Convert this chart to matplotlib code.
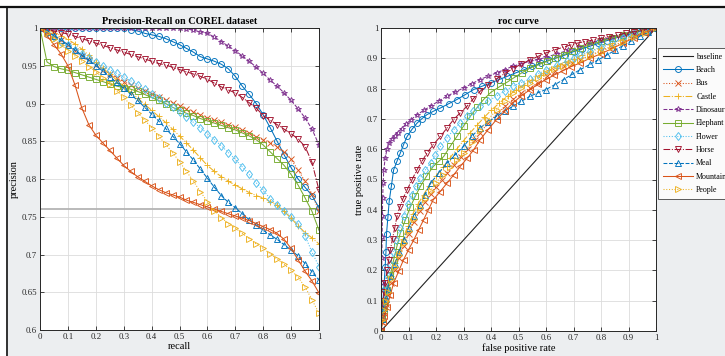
import numpy as np
import matplotlib
matplotlib.use("Agg")
import matplotlib.pyplot as plt
from matplotlib.lines import Line2D
from matplotlib.patches import Rectangle

plt.rcParams['font.family'] = ['Liberation Serif', 'DejaVu Serif']

classes = ['Beach', 'Bus', 'Castle', 'Dinosaur', 'Elephant', 'Flower', 'Horse', 'Meal', 'Mountain', 'People']

# ---------------- Precision-Recall data ----------------
recall = [0.0, 0.025, 0.05, 0.075, 0.1, 0.125, 0.15, 0.175, 0.2, 0.225, 0.25, 0.275, 0.3, 0.325,
          0.35, 0.375, 0.4, 0.425, 0.45, 0.475, 0.5, 0.525, 0.55, 0.575, 0.6, 0.625, 0.65, 0.675,
          0.7, 0.725, 0.75, 0.775, 0.8, 0.825, 0.85, 0.875, 0.9, 0.925, 0.95, 0.975, 1.0]

prec_beach = [1.0, 1.0, 1.0, 1.0, 1.0, 1.0, 1.0, 1.0, 1.0, 1.0, 1.0, 1.0, 1.0, 0.998,
              0.996, 0.993, 0.991, 0.989, 0.986, 0.982, 0.978, 0.973, 0.968, 0.962, 0.959, 0.956, 0.952, 0.946,
              0.936, 0.923, 0.912, 0.9, 0.885, 0.868, 0.85, 0.832, 0.815, 0.8, 0.789, 0.778, 0.762]
prec_bus = [1.0, 0.995, 0.99, 0.984, 0.977, 0.97, 0.963, 0.957, 0.951, 0.945, 0.939, 0.934, 0.929, 0.925,
            0.921, 0.917, 0.913, 0.909, 0.905, 0.901, 0.897, 0.893, 0.889, 0.885, 0.881, 0.878, 0.875, 0.872,
            0.869, 0.865, 0.861, 0.856, 0.852, 0.848, 0.843, 0.836, 0.826, 0.812, 0.797, 0.78, 0.757]
prec_castle = [1.0, 0.997, 0.994, 0.99, 0.985, 0.979, 0.972, 0.964, 0.955, 0.947, 0.939, 0.931, 0.923, 0.915,
               0.907, 0.899, 0.891, 0.883, 0.875, 0.866, 0.857, 0.848, 0.838, 0.828, 0.818, 0.81, 0.803, 0.797,
               0.792, 0.787, 0.782, 0.778, 0.775, 0.77, 0.765, 0.757, 0.748, 0.738, 0.729, 0.722, 0.714]
prec_dino = [1.0, 1.0, 1.0, 1.0, 1.0, 1.0, 1.0, 1.0, 1.0, 1.0, 1.0, 1.0, 1.0, 1.0,
             1.0, 1.0, 1.0, 1.0, 1.0, 1.0, 1.0, 0.999, 0.997, 0.995, 0.993, 0.988, 0.982, 0.976,
             0.97, 0.963, 0.956, 0.948, 0.94, 0.931, 0.923, 0.914, 0.904, 0.893, 0.881, 0.866, 0.845]
prec_elephant = [1.0, 0.955, 0.949, 0.946, 0.944, 0.941, 0.938, 0.935, 0.932, 0.929, 0.926, 0.923, 0.921, 0.919,
                 0.916, 0.912, 0.908, 0.904, 0.9, 0.895, 0.891, 0.887, 0.884, 0.88, 0.877, 0.874, 0.871, 0.868,
                 0.865, 0.861, 0.857, 0.852, 0.845, 0.836, 0.827, 0.818, 0.806, 0.792, 0.775, 0.757, 0.732]
prec_flower = [1.0, 0.994, 0.988, 0.982, 0.977, 0.971, 0.965, 0.96, 0.955, 0.95, 0.945, 0.94, 0.935, 0.93,
               0.925, 0.919, 0.913, 0.907, 0.901, 0.895, 0.889, 0.882, 0.875, 0.868, 0.86, 0.852, 0.844, 0.835,
               0.826, 0.816, 0.806, 0.795, 0.785, 0.774, 0.766, 0.758, 0.75, 0.74, 0.725, 0.703, 0.684]
prec_horse = [1.0, 0.998, 0.996, 0.994, 0.992, 0.989, 0.986, 0.983, 0.98, 0.977, 0.974, 0.971, 0.968, 0.965,
              0.962, 0.959, 0.956, 0.953, 0.951, 0.948, 0.945, 0.942, 0.939, 0.936, 0.932, 0.927, 0.922, 0.918,
              0.914, 0.908, 0.901, 0.894, 0.884, 0.878, 0.872, 0.866, 0.86, 0.853, 0.843, 0.822, 0.785]
prec_meal = [1.0, 0.995, 0.99, 0.984, 0.978, 0.971, 0.964, 0.957, 0.95, 0.943, 0.935, 0.928, 0.92, 0.912,
             0.904, 0.895, 0.886, 0.877, 0.867, 0.857, 0.847, 0.836, 0.825, 0.813, 0.801, 0.789, 0.778, 0.769,
             0.762, 0.754, 0.746, 0.739, 0.732, 0.726, 0.72, 0.713, 0.706, 0.698, 0.688, 0.677, 0.666]
prec_mountain = [1.0, 0.99, 0.978, 0.966, 0.95, 0.925, 0.894, 0.872, 0.858, 0.848, 0.838, 0.828, 0.818, 0.81,
                 0.803, 0.797, 0.791, 0.786, 0.782, 0.779, 0.776, 0.772, 0.769, 0.766, 0.763, 0.76, 0.757, 0.754,
                 0.751, 0.748, 0.745, 0.741, 0.737, 0.733, 0.728, 0.72, 0.708, 0.693, 0.678, 0.665, 0.649]
prec_people = [1.0, 0.993, 0.986, 0.978, 0.97, 0.963, 0.956, 0.949, 0.942, 0.934, 0.926, 0.917, 0.908, 0.898,
               0.888, 0.878, 0.868, 0.857, 0.846, 0.835, 0.823, 0.81, 0.797, 0.783, 0.77, 0.758, 0.749, 0.741,
               0.735, 0.728, 0.721, 0.714, 0.708, 0.701, 0.694, 0.687, 0.679, 0.67, 0.657, 0.64, 0.622]

pr_reference_level = 0.76

# ---------------- ROC data ----------------
baseline_fpr = [0.0, 1.0]
baseline_tpr = [0.0, 1.0]

fpr_beach = [0, 0.003, 0.007, 0.011, 0.015, 0.018, 0.02, 0.025, 0.03, 0.038, 0.046, 0.058, 0.07, 0.082,
             0.095, 0.113, 0.131, 0.149, 0.167, 0.19, 0.216, 0.246, 0.276, 0.306, 0.337, 0.368, 0.4, 0.43,
             0.458, 0.49, 0.52, 0.55, 0.58, 0.61, 0.64, 0.67, 0.7, 0.73, 0.76, 0.79, 0.82, 0.85, 0.88,
             0.91, 0.94, 0.97, 1.0]
tpr_beach = [0, 0.05, 0.1, 0.15, 0.21, 0.26, 0.32, 0.375, 0.43, 0.48, 0.532, 0.56, 0.587, 0.615,
             0.642, 0.666, 0.686, 0.701, 0.714, 0.725, 0.736, 0.75, 0.764, 0.78, 0.797, 0.808, 0.819, 0.83,
             0.84, 0.852, 0.862, 0.873, 0.884, 0.893, 0.902, 0.911, 0.922, 0.931, 0.94, 0.949, 0.958, 0.966, 0.974,
             0.981, 0.988, 0.995, 1.0]

fpr_bus = [0, 0.005, 0.01, 0.017, 0.025, 0.036, 0.05, 0.065, 0.082, 0.1, 0.12, 0.14, 0.16, 0.18,
           0.2, 0.22, 0.24, 0.265, 0.29, 0.315, 0.34, 0.36, 0.39, 0.42, 0.45, 0.48, 0.51, 0.543,
           0.57, 0.604, 0.634, 0.664, 0.695, 0.725, 0.76, 0.8, 0.84, 0.88, 0.92, 0.96, 1.0]
tpr_bus = [0, 0.03, 0.06, 0.09, 0.12, 0.16, 0.2, 0.24, 0.28, 0.32, 0.36, 0.395, 0.425, 0.452,
           0.476, 0.5, 0.522, 0.548, 0.575, 0.6, 0.63, 0.655, 0.686, 0.716, 0.742, 0.765, 0.785, 0.802,
           0.82, 0.84, 0.857, 0.874, 0.886, 0.896, 0.91, 0.925, 0.94, 0.955, 0.972, 0.987, 1.0]

fpr_castle = [0, 0.005, 0.01, 0.016, 0.024, 0.036, 0.05, 0.064, 0.08, 0.097, 0.115, 0.135, 0.155, 0.175,
              0.2, 0.225, 0.25, 0.275, 0.3, 0.325, 0.35, 0.375, 0.4, 0.43, 0.46, 0.49, 0.52, 0.55,
              0.58, 0.61, 0.64, 0.67, 0.7, 0.73, 0.76, 0.8, 0.84, 0.88, 0.92, 0.96, 1.0]
tpr_castle = [0, 0.04, 0.07, 0.1, 0.135, 0.18, 0.225, 0.265, 0.305, 0.345, 0.385, 0.42, 0.45, 0.48,
              0.51, 0.54, 0.57, 0.6, 0.628, 0.655, 0.68, 0.705, 0.728, 0.752, 0.775, 0.795, 0.813, 0.83,
              0.846, 0.86, 0.874, 0.887, 0.899, 0.91, 0.921, 0.935, 0.949, 0.962, 0.976, 0.989, 1.0]

fpr_dino = [0, 0.001, 0.002, 0.003, 0.004, 0.005, 0.006, 0.008, 0.01, 0.015, 0.022, 0.03, 0.04, 0.05,
            0.06, 0.075, 0.09, 0.11, 0.13, 0.155, 0.18, 0.21, 0.24, 0.27, 0.3, 0.33, 0.36, 0.39,
            0.42, 0.45, 0.48, 0.51, 0.54, 0.57, 0.6, 0.64, 0.68, 0.72, 0.76, 0.8, 0.84, 0.88, 0.92,
            0.96, 1.0]
tpr_dino = [0, 0.08, 0.16, 0.24, 0.31, 0.38, 0.44, 0.49, 0.53, 0.57, 0.6, 0.62, 0.635, 0.645,
            0.655, 0.668, 0.682, 0.698, 0.713, 0.728, 0.742, 0.759, 0.775, 0.789, 0.802, 0.816, 0.83, 0.841,
            0.852, 0.863, 0.874, 0.882, 0.89, 0.896, 0.903, 0.915, 0.926, 0.938, 0.95, 0.96, 0.969, 0.978, 0.986,
            0.994, 1.0]

fpr_elephant = [0, 0.005, 0.01, 0.016, 0.022, 0.034, 0.046, 0.058, 0.07, 0.088, 0.107, 0.125, 0.143, 0.165,
                0.19, 0.21, 0.228, 0.252, 0.276, 0.3, 0.325, 0.35, 0.373, 0.4, 0.434, 0.46, 0.482, 0.512,
                0.543, 0.574, 0.604, 0.634, 0.664, 0.695, 0.725, 0.76, 0.8, 0.84, 0.88, 0.92, 0.96, 1.0]
tpr_elephant = [0, 0.04, 0.07, 0.1, 0.135, 0.185, 0.235, 0.28, 0.323, 0.365, 0.41, 0.445, 0.477, 0.51,
                0.543, 0.56, 0.576, 0.61, 0.642, 0.676, 0.709, 0.738, 0.764, 0.788, 0.808, 0.822, 0.835, 0.852,
                0.868, 0.879, 0.89, 0.901, 0.912, 0.923, 0.934, 0.945, 0.956, 0.967, 0.978, 0.988, 0.995, 1.0]

fpr_flower = [0, 0.004, 0.008, 0.013, 0.018, 0.026, 0.034, 0.044, 0.055, 0.068, 0.082, 0.097, 0.112, 0.128,
              0.143, 0.16, 0.18, 0.198, 0.216, 0.24, 0.264, 0.288, 0.313, 0.336, 0.36, 0.39, 0.42, 0.45,
              0.48, 0.51, 0.543, 0.57, 0.6, 0.64, 0.676, 0.7, 0.725, 0.76, 0.8, 0.84, 0.88, 0.92, 0.96, 1.0]
tpr_flower = [0, 0.04, 0.08, 0.11, 0.135, 0.18, 0.22, 0.26, 0.3, 0.34, 0.38, 0.42, 0.45, 0.48,
              0.505, 0.53, 0.554, 0.58, 0.609, 0.637, 0.664, 0.687, 0.709, 0.726, 0.742, 0.759, 0.775, 0.792,
              0.808, 0.82, 0.832, 0.848, 0.863, 0.877, 0.89, 0.9, 0.91, 0.923, 0.938, 0.952, 0.966, 0.979, 0.991, 1.0]

fpr_horse = [0, 0.004, 0.008, 0.012, 0.016, 0.022, 0.028, 0.034, 0.042, 0.05, 0.058, 0.068, 0.08, 0.095,
             0.113, 0.131, 0.149, 0.167, 0.19, 0.216, 0.24, 0.264, 0.288, 0.313, 0.336, 0.36, 0.39, 0.42,
             0.45, 0.48, 0.51, 0.543, 0.57, 0.6, 0.632, 0.664, 0.69, 0.713, 0.74, 0.77, 0.8, 0.83, 0.86,
             0.89, 0.92, 0.95, 0.98, 1.0]
tpr_horse = [0, 0.05, 0.1, 0.13, 0.158, 0.2, 0.235, 0.268, 0.305, 0.34, 0.378, 0.408, 0.437, 0.466,
             0.5, 0.532, 0.56, 0.587, 0.615, 0.642, 0.67, 0.698, 0.72, 0.742, 0.767, 0.791, 0.812, 0.832,
             0.85, 0.866, 0.881, 0.895, 0.906, 0.918, 0.928, 0.937, 0.944, 0.95, 0.955, 0.96, 0.966, 0.971, 0.977,
             0.983, 0.988, 0.993, 0.997, 1.0]

fpr_meal = [0, 0.005, 0.01, 0.017, 0.025, 0.036, 0.05, 0.065, 0.082, 0.1, 0.12, 0.14, 0.16, 0.18,
            0.21, 0.24, 0.27, 0.3, 0.33, 0.36, 0.39, 0.42, 0.45, 0.48, 0.51, 0.543, 0.57, 0.6,
            0.632, 0.664, 0.695, 0.725, 0.76, 0.79, 0.82, 0.85, 0.88, 0.91, 0.94, 0.97, 1.0]
tpr_meal = [0, 0.04, 0.075, 0.105, 0.14, 0.18, 0.22, 0.26, 0.3, 0.34, 0.38, 0.415, 0.45, 0.488,
            0.521, 0.554, 0.582, 0.609, 0.642, 0.67, 0.69, 0.709, 0.726, 0.742, 0.758, 0.775, 0.786, 0.797,
            0.813, 0.83, 0.847, 0.863, 0.88, 0.895, 0.91, 0.926, 0.942, 0.957, 0.972, 0.987, 1.0]

fpr_mountain = [0, 0.006, 0.012, 0.022, 0.034, 0.046, 0.064, 0.082, 0.1, 0.119, 0.137, 0.155, 0.172, 0.19,
                0.215, 0.24, 0.264, 0.288, 0.313, 0.337, 0.36, 0.39, 0.42, 0.45, 0.48, 0.51, 0.543, 0.57,
                0.6, 0.63, 0.66, 0.69, 0.725, 0.76, 0.8, 0.84, 0.88, 0.92, 0.96, 1.0]
tpr_mountain = [0, 0.03, 0.05, 0.08, 0.12, 0.158, 0.197, 0.235, 0.268, 0.3, 0.334, 0.367, 0.4, 0.433,
                0.46, 0.488, 0.515, 0.543, 0.57, 0.598, 0.631, 0.665, 0.698, 0.726, 0.753, 0.776, 0.797, 0.814,
                0.83, 0.845, 0.858, 0.872, 0.885, 0.9, 0.915, 0.932, 0.95, 0.968, 0.985, 1.0]

fpr_people = [0, 0.005, 0.01, 0.017, 0.025, 0.036, 0.05, 0.065, 0.082, 0.1, 0.12, 0.14, 0.16, 0.18,
              0.2, 0.225, 0.25, 0.275, 0.3, 0.33, 0.36, 0.39, 0.42, 0.45, 0.48, 0.51, 0.543, 0.57,
              0.6, 0.63, 0.66, 0.69, 0.725, 0.76, 0.8, 0.84, 0.88, 0.92, 0.96, 1.0]
tpr_people = [0, 0.035, 0.07, 0.1, 0.13, 0.17, 0.21, 0.25, 0.29, 0.33, 0.37, 0.405, 0.435, 0.462,
              0.49, 0.515, 0.54, 0.563, 0.587, 0.625, 0.664, 0.698, 0.73, 0.758, 0.786, 0.803, 0.819, 0.836,
              0.852, 0.865, 0.876, 0.886, 0.896, 0.908, 0.922, 0.937, 0.953, 0.969, 0.985, 1.0]

pr_values = [prec_beach, prec_bus, prec_castle, prec_dino, prec_elephant,
             prec_flower, prec_horse, prec_meal, prec_mountain, prec_people]
roc_values = [(fpr_beach, tpr_beach), (fpr_bus, tpr_bus), (fpr_castle, tpr_castle),
              (fpr_dino, tpr_dino), (fpr_elephant, tpr_elephant), (fpr_flower, tpr_flower),
              (fpr_horse, tpr_horse), (fpr_meal, tpr_meal), (fpr_mountain, tpr_mountain),
              (fpr_people, tpr_people)]

# ---------------- styles ----------------
colors = ['#0072BD', '#D95319', '#EDB120', '#7E2F8E', '#77AC30',
          '#4DBEEE', '#A2142F', '#0072BD', '#D95319', '#EDB120']
markers = ['o', 'x', '+', '*', 's', 'd', 'v', '^', '<', '>']
linestyles = ['-', ':', '-.', '--', '-', ':', '-.', '--', '-', ':']

W, H = 725, 356
fig = plt.figure(figsize=(W / 100, H / 100), dpi=100)
fig.patch.set_facecolor('#eceef0')

# white margin with dark frame line at top and left
fig.add_artist(Rectangle((0, 1 - 6 / H), 1, 6 / H, transform=fig.transFigure,
                         facecolor='white', edgecolor='none', zorder=0))
fig.add_artist(Rectangle((0, 0), 6 / W, 1, transform=fig.transFigure,
                         facecolor='white', edgecolor='none', zorder=0))
fig.add_artist(Line2D([0, 1], [1 - 6.5 / H, 1 - 6.5 / H], transform=fig.transFigure,
                      color='#111111', lw=1.6))
fig.add_artist(Line2D([6.5 / W, 6.5 / W], [0, 1 - 6.5 / H], transform=fig.transFigure,
                      color='#111111', lw=1.2))

def ax_rect(x0, x1, ytop, ybot):
    return [x0 / W, 1 - ybot / H, (x1 - x0) / W, (ybot - ytop) / H]

ax1 = fig.add_axes(ax_rect(40, 319, 28, 330))
ax2 = fig.add_axes(ax_rect(381, 656, 28, 331))

axis_color = '#262626'
tick_fs = 6.3

def style_axes(ax):
    ax.set_facecolor('white')
    ax.grid(True, color='#dcdcdc', lw=0.6)
    ax.set_axisbelow(True)
    for s in ax.spines.values():
        s.set_color(axis_color)
        s.set_linewidth(0.7)
    ax.tick_params(direction='in', top=True, right=True, length=3, width=0.6,
                   colors=axis_color, labelsize=tick_fs, pad=2)

mk_size = 4.3
mk_ew = 0.65
lw = 0.75

# Precision-Recall
for name, vals, c, m, ls in zip(classes, pr_values, colors, markers, linestyles):
    ax1.plot(recall, vals, color=c, marker=m, ls=ls, lw=lw, ms=mk_size,
             mfc='none', mec=c, mew=mk_ew)
ax1.axhline(pr_reference_level, color='#b4b4b4', lw=1.3, zorder=1.5)
ax1.set_xlim(0, 1)
ax1.set_ylim(0.6, 1.0)
ax1.set_xticks(np.arange(0, 1.01, 0.1))
ax1.set_xticklabels(['0', '0.1', '0.2', '0.3', '0.4', '0.5', '0.6', '0.7', '0.8', '0.9', '1'])
ax1.set_yticks(np.arange(0.6, 1.001, 0.05))
ax1.set_yticklabels(['0.6', '0.65', '0.7', '0.75', '0.8', '0.85', '0.9', '0.95', '1'])
style_axes(ax1)
ax1.set_title('Precision-Recall on COREL dataset', fontsize=7.3, fontweight='bold', pad=3)
ax1.set_xlabel('recall', fontsize=7.5, labelpad=1)
ax1.set_ylabel('precision', fontsize=7.5, labelpad=2)

# ROC
handles = []
h, = ax2.plot(baseline_fpr, baseline_tpr, color='#222222', lw=0.8, label='baseline')
handles.append(h)
for name, (fx, ty), c, m, ls in zip(classes, roc_values, colors, markers, linestyles):
    h, = ax2.plot(fx, ty, color=c, marker=m, ls=ls, lw=lw, ms=mk_size,
                  mfc='none', mec=c, mew=mk_ew, label=name)
    handles.append(h)
ax2.set_xlim(0, 1)
ax2.set_ylim(0, 1)
ax2.set_xticks(np.arange(0, 1.01, 0.1))
ax2.set_xticklabels(['0', '0.1', '0.2', '0.3', '0.4', '0.5', '0.6', '0.7', '0.8', '0.9', '1'])
ax2.set_yticks(np.arange(0, 1.01, 0.1))
ax2.set_yticklabels(['0', '0.1', '0.2', '0.3', '0.4', '0.5', '0.6', '0.7', '0.8', '0.9', '1'])
style_axes(ax2)
ax2.set_title('roc curve', fontsize=7.3, fontweight='bold', pad=3)
ax2.set_xlabel('false positive rate', fontsize=7.5, labelpad=1)
ax2.set_ylabel('true positive rate', fontsize=7.5, labelpad=2)

leg = fig.legend(handles=handles, loc='upper left',
                 bbox_to_anchor=(658 / W, 1 - 48 / H), fontsize=5.8,
                 frameon=True, fancybox=False, handlelength=3.7, handletextpad=0.45,
                 labelspacing=0.66, borderpad=0.6, borderaxespad=0)
leg.get_frame().set_edgecolor('#333333')
leg.get_frame().set_linewidth(0.7)
leg.get_frame().set_facecolor('white')

fig.savefig('out.png', dpi=100, facecolor=fig.get_facecolor())
